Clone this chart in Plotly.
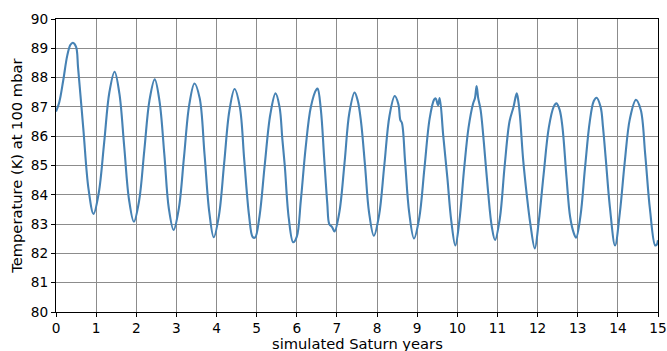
import plotly.graph_objects as go

years = [
    0.00, 0.08, 0.18, 0.28, 0.36, 0.42, 0.50, 0.55, 0.68, 0.81, 0.935,
    1.065, 1.20, 1.33, 1.46, 1.58, 1.70, 1.82, 1.94,
    2.07, 2.20, 2.33, 2.46, 2.58, 2.70, 2.81, 2.93,
    3.06, 3.19, 3.32, 3.45, 3.58, 3.70, 3.82, 3.93,
    4.06, 4.19, 4.32, 4.45, 4.58, 4.69, 4.81, 4.90, 4.96,
    5.07, 5.20, 5.34, 5.47, 5.57, 5.64, 5.70, 5.80, 5.91, 6.00,
    6.10, 6.22, 6.35, 6.49, 6.52, 6.60, 6.68, 6.76, 6.81, 6.88, 6.94,
    7.06, 7.19, 7.31, 7.44, 7.52, 7.60, 7.70, 7.80, 7.92,
    8.05, 8.18, 8.31, 8.44, 8.53, 8.58, 8.62, 8.70, 8.80, 8.92,
    9.05, 9.18, 9.31, 9.42, 9.46, 9.52, 9.56, 9.65, 9.75, 9.85, 9.95,
    10.05, 10.17, 10.28, 10.39, 10.44, 10.48, 10.52, 10.58, 10.66, 10.76, 10.86, 10.94,
    11.06, 11.18, 11.30, 11.40, 11.48, 11.52, 11.56, 11.64, 11.73, 11.82, 11.93,
    12.03, 12.15, 12.28, 12.40, 12.47, 12.55, 12.62, 12.72, 12.81, 12.90, 12.96,
    13.07, 13.18, 13.30, 13.40, 13.47, 13.57, 13.63, 13.70, 13.80, 13.93,
    14.05, 14.17, 14.30, 14.45, 14.57, 14.68, 14.80, 14.93, 14.97, 15.00,
]
temperature = [
    86.84, 87.15, 87.90, 88.75, 89.12, 89.19, 89.05, 88.34, 86.27, 84.20, 83.35,
    84.06, 85.78, 87.50, 88.20, 87.45, 85.64, 83.83, 83.08,
    83.79, 85.51, 87.23, 87.94, 87.19, 85.37, 83.55, 82.80,
    83.53, 85.30, 87.07, 87.80, 87.30, 85.40, 83.40, 82.55,
    83.29, 85.08, 86.87, 87.61, 87.00, 85.20, 83.30, 82.56, 82.54,
    83.26, 85.00, 86.74, 87.46, 87.00, 85.90, 85.00, 83.20, 82.38, 82.57,
    83.80, 85.60, 87.00, 87.60, 87.62, 86.90, 85.30, 83.70, 83.00, 82.90, 82.75,
    83.40, 85.10, 86.80, 87.49, 87.20, 86.50, 85.00, 83.40, 82.60,
    83.30, 85.00, 86.70, 87.37, 87.10, 86.55, 86.45, 85.10, 83.40, 82.51,
    83.20, 84.90, 86.60, 87.25, 87.29, 87.06, 87.30, 86.00, 84.60, 83.10, 82.27,
    83.10, 84.90, 86.30, 87.10, 87.30, 87.71, 87.30, 86.90, 85.80, 84.20, 82.90, 82.46,
    83.20, 85.00, 86.50, 87.00, 87.46, 87.20, 86.70, 85.20, 84.00, 83.00, 82.17,
    83.10, 84.70, 86.30, 87.00, 87.12, 86.90, 86.30, 84.60, 83.25, 82.70, 82.54,
    83.30, 84.90, 86.50, 87.20, 87.31, 87.00, 86.30, 85.20, 83.60, 82.27,
    83.40, 85.10, 86.60, 87.24, 86.90, 85.40, 83.50, 82.27, 82.30, 82.45,
]

x_ticks = list(range(0, 16))
y_ticks = list(range(80, 91))

fig = go.Figure()
fig.add_trace(go.Scatter(
    x=years, y=temperature, mode="lines",
    line=dict(color="#4682b4", width=2.1, shape="spline", smoothing=1.0),
    showlegend=False, hoverinfo="skip",
))

tick_font = dict(family="DejaVu Sans", size=13.7, color="black")
title_font = dict(family="DejaVu Sans", size=14.7, color="black")
axis_common = dict(
    showline=True, linecolor="black", linewidth=1, mirror=True,
    ticks="outside", ticklen=4, tickcolor="black", tickwidth=1,
    showgrid=True, gridcolor="#8c8c8c", gridwidth=1,
    zeroline=False, tickfont=tick_font, automargin=False,
    ticklabeloverflow="allow",
)
fig.update_layout(
    width=667, height=351,
    margin=dict(l=56, r=8.5, t=19, b=38.5, autoexpand=False),
    paper_bgcolor="white", plot_bgcolor="white",
    font=tick_font,
    xaxis=dict(range=[0, 15], tickvals=x_ticks, **axis_common),
    yaxis=dict(range=[80, 90], tickvals=y_ticks, **axis_common),
    annotations=[
        dict(text="simulated Saturn years", xref="paper", yref="paper",
             x=0.5, y=-0.107, xanchor="center", yanchor="middle",
             showarrow=False, font=title_font),
        dict(text="Temperature (K) at 100 mbar", xref="paper", yref="paper",
             x=-0.066, y=0.5, xanchor="center", yanchor="middle",
             textangle=-90, showarrow=False, font=title_font),
    ],
)
fig.write_html("out.html")
